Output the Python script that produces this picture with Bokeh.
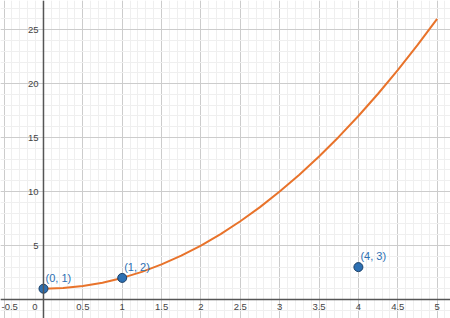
from bokeh.plotting import figure
from bokeh.models import Span, SingleIntervalTicker, ColumnDataSource
from bokeh.core.properties import value
from bokeh.embed import file_html
from bokeh.resources import INLINE

# Curve values
curve_x = [0, 0.25, 0.5, 0.75, 1, 1.25, 1.5, 1.75, 2, 2.25, 2.5, 2.75, 3, 3.25, 3.5, 3.75, 4, 4.25, 4.5, 4.75, 5]
curve_y = [1, 1.06, 1.25, 1.56, 2, 2.56, 3.25, 4.06, 5, 6.06, 7.25, 8.56, 10, 11.56, 13.25, 15.06, 17, 19.06, 21.25, 23.56, 26]

# Labelled points
pt_x = [0, 1, 4]
pt_y = [1, 2, 3]
pt_labels = ["(0, 1)", "(1, 2)", "(4, 3)"]

# Tick labels
x_ticks = [0.5, 1, 1.5, 2, 2.5, 3, 3.5, 4, 4.5, 5]
x_tick_labels = ["0.5", "1", "1.5", "2", "2.5", "3", "3.5", "4", "4.5", "5"]
y_ticks = [5, 10, 15, 20, 25]
y_tick_labels = ["5", "10", "15", "20", "25"]
x_min, x_max = -0.546, 5.17
y_min, y_max = -1.76, 27.7

p = figure(width=450, height=318, x_range=(x_min, x_max), y_range=(y_min, y_max),
           output_backend="svg", toolbar_location=None, min_border=0)
p.outline_line_color = None
p.xaxis.visible = False
p.yaxis.visible = False
p.background_fill_color = "white"

p.xgrid.ticker = SingleIntervalTicker(interval=0.5, num_minor_ticks=5)
p.ygrid.ticker = SingleIntervalTicker(interval=5, num_minor_ticks=5)
for g in (p.xgrid, p.ygrid):
    g.grid_line_color = "#cccccc"
    g.grid_line_width = 1
    g.minor_grid_line_color = "#efefef"
    g.minor_grid_line_width = 1

p.add_layout(Span(location=0, dimension="height", line_color="#555555", line_width=1.5))
p.add_layout(Span(location=0, dimension="width", line_color="#555555", line_width=1.5))

font = value("Liberation Sans")
p.text(x=x_ticks, y=[0] * len(x_ticks), text=x_tick_labels, text_align="center",
       text_baseline="top", y_offset=4, text_font_size="9.5px", text_color="#444444", text_font=font)
# "-0.5" sits at the left edge; keep it fully inside the frame
p.text(x=[x_min], y=[0], text=["-0.5"], text_align="left", text_baseline="top",
       x_offset=1, y_offset=4, text_font_size="9.5px", text_color="#444444", text_font=font)
p.text(x=[0], y=[0], text=["0"], text_align="right", text_baseline="top",
       x_offset=-6, y_offset=4, text_font_size="9.5px", text_color="#444444", text_font=font)
p.text(x=[0] * len(y_ticks), y=y_ticks, text=y_tick_labels, text_align="right",
       text_baseline="middle", x_offset=-5, text_font_size="9.5px", text_color="#444444", text_font=font)

p.line(curve_x, curve_y, line_color="#e8732b", line_width=2)

src = ColumnDataSource(dict(x=pt_x, y=pt_y, label=pt_labels))
p.scatter("x", "y", source=src, size=9, fill_color="#2d70b3", line_color="#1b3f66", line_width=1)
p.text("x", "y", text="label", source=src, x_offset=2, y_offset=-5, text_baseline="bottom",
       text_align="left", text_font_size="11px", text_color="#2d70b3", text_font=font)

open("out.html", "w").write(file_html(p, INLINE))
